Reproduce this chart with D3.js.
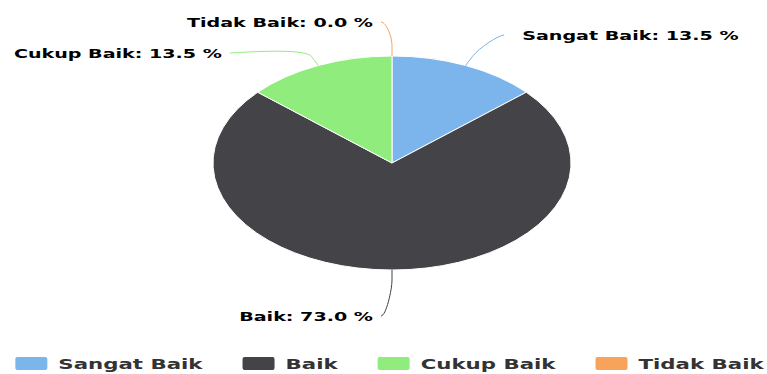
<!DOCTYPE html>
<html>
<head>
<meta charset="utf-8">
<script src="https://cdn.jsdelivr.net/npm/d3@7"></script>
<style>
  html, body { margin: 0; padding: 0; background: #ffffff; }
  svg { display: block; font-family: "DejaVu Sans", sans-serif; }
</style>
</head>
<body>
<svg id="chart" width="767" height="374"></svg>
<script>
// Survey result shares (percent)
const categories = ["Sangat Baik", "Baik", "Cukup Baik", "Tidak Baik"];
const values = [13.5, 73.0, 13.5, 0.0];
const colors = ["#7cb5ec", "#434348", "#90ed7d", "#f7a35c"];

const W = 767, H = 374;
const cx = 392, cy = 163;          // pie centre
const ry = 107, rx = 179;          // elliptical pie radii
const sxPie = rx / ry;             // horizontal stretch of the pie
const sxText = 1.47;               // horizontal stretch of the text
const labelDist = 40;              // label ring distance beyond the rim
const labelShiftY = 6;
const labelGap = 31;               // minimum vertical spacing between labels on one side

const svg = d3.select("#chart");

const pie = d3.pie().sort(null).value(d => d.value);
const data = categories.map((c, i) => ({ name: c, value: values[i], color: colors[i] }));
const arcs = pie(data);

const arc = d3.arc().innerRadius(0).outerRadius(ry);

// Slices
const pieG = svg.append("g")
  .attr("transform", `translate(${cx},${cy}) scale(${sxPie},1)`);
pieG.selectAll("path")
  .data(arcs.filter(a => a.data.value > 0))
  .join("path")
  .attr("d", arc)
  .attr("fill", d => d.data.color)
  .attr("stroke", "#ffffff")
  .attr("stroke-width", 1)
  .attr("vector-effect", "non-scaling-stroke");

// Position on the (stretched) ellipse for a given angle and radius
function pos(angle, r) {
  return [cx + r * sxPie * Math.sin(angle), cy - r * Math.cos(angle)];
}

// Data label layout
const labels = arcs.map(a => {
  const mid = (a.startAngle + a.endAngle) / 2;
  const side = Math.sin(mid) < 1e-6 ? -1 : 1;
  const R = ry + labelDist;
  return {
    d: a, mid, side,
    y: cy - R * Math.cos(mid) + labelShiftY
  };
});

// push labels apart on each side
[-1, 1].forEach(s => {
  const group = labels.filter(l => l.side === s).sort((a, b) => a.y - b.y);
  for (let i = 1; i < group.length; i++) {
    if (group[i].y - group[i - 1].y < labelGap) group[i].y = group[i - 1].y + labelGap;
  }
});

const fmt = d3.format(".1f");
const R = ry + labelDist;
labels.forEach(l => {
  const dy = l.y - labelShiftY - cy;
  const dx = Math.sqrt(Math.max(0, R * R - dy * dy)) * sxPie;
  const anchorX = cx + l.side * dx;
  const px = anchorX + l.side * 11;
  const touch = pos(l.mid, ry);
  const brk = pos(l.mid, ry + 10);
  const c2 = [2 * brk[0] - touch[0], 2 * brk[1] - touch[1]];
  const c1 = [px - l.side * 5, l.y];

  const p = d3.path();
  p.moveTo(px, l.y);
  p.bezierCurveTo(c1[0], c1[1], c2[0], c2[1], brk[0], brk[1]);
  p.lineTo(touch[0], touch[1]);
  svg.append("path")
    .attr("d", p.toString())
    .attr("fill", "none")
    .attr("stroke", l.d.data.color)
    .attr("stroke-width", 1);

  const tx = l.side < 0 ? px - 8 : px + 18;
  svg.append("g")
    .attr("transform", `translate(${tx},${l.y}) scale(${sxText},1)`)
    .append("text")
    .attr("text-anchor", l.side < 0 ? "end" : "start")
    .attr("dy", "0.36em")
    .attr("font-size", 13)
    .attr("font-weight", "bold")
    .attr("fill", "#000000")
    .text(`${l.d.data.name}: ${fmt(l.d.data.value)} %`);
});

// Legend
const legendY = 363.5, symW = 32, symH = 13, symGap = 11, itemGap = 40;
const legend = svg.append("g");
const items = data.map(d => {
  const g = legend.append("g");
  g.append("rect")
    .attr("width", symW).attr("height", symH)
    .attr("y", legendY - symH / 2)
    .attr("rx", 2).attr("ry", 2)
    .attr("fill", d.color);
  const t = g.append("g")
    .attr("transform", `translate(${symW + symGap},${legendY}) scale(${sxText},1)`)
    .append("text")
    .attr("dy", "0.36em")
    .attr("font-size", 14.5)
    .attr("font-weight", "bold")
    .attr("fill", "#333333")
    .text(d.name);
  const w = symW + symGap + t.node().getComputedTextLength() * sxText;
  return { g, w };
});
const total = d3.sum(items, i => i.w) + itemGap * (items.length - 1);
let x = 389.5 - total / 2;
items.forEach(it => {
  it.g.attr("transform", `translate(${x},0)`);
  x += it.w + itemGap;
});
</script>
</body>
</html>
